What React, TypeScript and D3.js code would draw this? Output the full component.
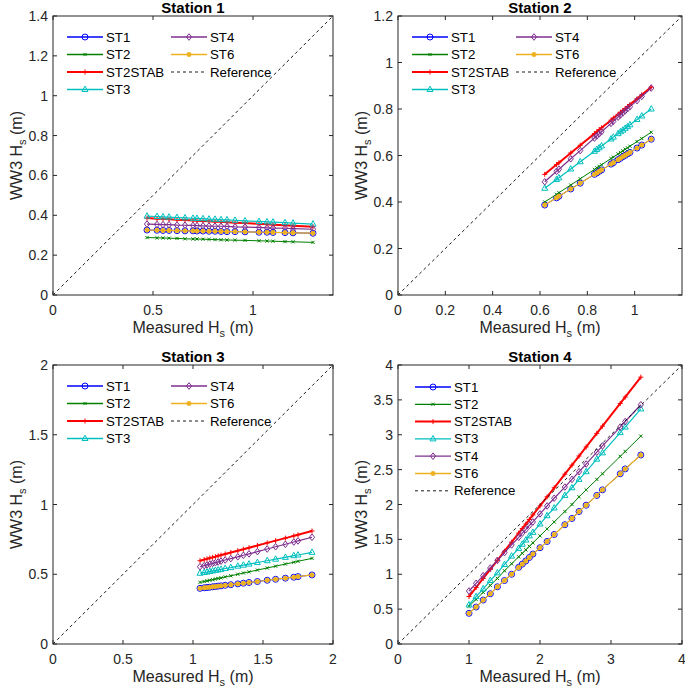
import React from "react";
import * as d3 from "d3";

// ---- data ----
const seriesNames = ["ST1", "ST2", "ST2STAB", "ST3", "ST4", "ST6"];

// Station 1
const s1Measured = [0.47, 0.52, 0.55, 0.58, 0.62, 0.66, 0.7, 0.72, 0.75, 0.78, 0.81, 0.84, 0.87, 0.91, 0.96, 1.03, 1.07, 1.1, 1.16, 1.2, 1.3];
const s1ST1 = [0.326, 0.325, 0.324, 0.324, 0.323, 0.322, 0.322, 0.321, 0.321, 0.32, 0.32, 0.319, 0.318, 0.318, 0.317, 0.315, 0.315, 0.314, 0.313, 0.312, 0.31];
const s1ST2 = [0.288, 0.287, 0.286, 0.285, 0.284, 0.282, 0.281, 0.281, 0.28, 0.279, 0.278, 0.277, 0.276, 0.275, 0.274, 0.272, 0.271, 0.27, 0.268, 0.267, 0.264];
const s1ST2STAB = [0.386, 0.383, 0.382, 0.38, 0.378, 0.376, 0.374, 0.373, 0.371, 0.37, 0.368, 0.367, 0.365, 0.363, 0.361, 0.357, 0.355, 0.353, 0.35, 0.348, 0.343];
const s1ST3 = [0.396, 0.394, 0.392, 0.391, 0.389, 0.387, 0.385, 0.384, 0.383, 0.381, 0.38, 0.378, 0.377, 0.375, 0.372, 0.369, 0.367, 0.366, 0.363, 0.361, 0.356];
const s1ST4 = [0.356, 0.354, 0.353, 0.353, 0.351, 0.35, 0.349, 0.348, 0.347, 0.346, 0.345, 0.345, 0.344, 0.342, 0.341, 0.339, 0.337, 0.336, 0.335, 0.333, 0.33];
const s1ST6 = [0.326, 0.325, 0.324, 0.324, 0.323, 0.322, 0.322, 0.321, 0.321, 0.32, 0.32, 0.319, 0.318, 0.318, 0.317, 0.315, 0.315, 0.314, 0.313, 0.312, 0.31];

// Station 2
const s2Measured = [0.62, 0.67, 0.68, 0.73, 0.77, 0.83, 0.84, 0.85, 0.86, 0.9, 0.91, 0.93, 0.94, 0.95, 0.96, 0.97, 0.98, 1.01, 1.03, 1.07];
const s2ST1 = [0.387, 0.418, 0.425, 0.456, 0.481, 0.519, 0.525, 0.532, 0.538, 0.563, 0.569, 0.582, 0.588, 0.595, 0.601, 0.607, 0.613, 0.632, 0.645, 0.67];
const s2ST2 = [0.4, 0.433, 0.44, 0.473, 0.5, 0.54, 0.547, 0.553, 0.56, 0.587, 0.593, 0.607, 0.613, 0.62, 0.627, 0.633, 0.64, 0.66, 0.673, 0.7];
const s2ST2STAB = [0.519, 0.561, 0.569, 0.611, 0.644, 0.694, 0.702, 0.711, 0.719, 0.752, 0.761, 0.777, 0.786, 0.794, 0.802, 0.811, 0.819, 0.844, 0.861, 0.894];
const s2ST3 = [0.459, 0.497, 0.504, 0.542, 0.573, 0.618, 0.626, 0.633, 0.641, 0.671, 0.679, 0.694, 0.702, 0.709, 0.717, 0.724, 0.732, 0.755, 0.77, 0.8];
const s2ST4 = [0.487, 0.532, 0.541, 0.586, 0.621, 0.675, 0.684, 0.693, 0.702, 0.738, 0.747, 0.765, 0.774, 0.783, 0.792, 0.801, 0.81, 0.836, 0.854, 0.89];
const s2ST6 = [0.387, 0.418, 0.425, 0.456, 0.481, 0.519, 0.525, 0.532, 0.538, 0.563, 0.569, 0.582, 0.588, 0.595, 0.601, 0.607, 0.613, 0.632, 0.645, 0.67];

// Station 3
const s3Measured = [1.05, 1.08, 1.1, 1.12, 1.14, 1.16, 1.18, 1.2, 1.23, 1.27, 1.32, 1.36, 1.4, 1.46, 1.53, 1.59, 1.66, 1.72, 1.75, 1.85];
const s3ST1 = [0.399, 0.403, 0.405, 0.407, 0.41, 0.412, 0.415, 0.417, 0.421, 0.425, 0.431, 0.436, 0.441, 0.448, 0.457, 0.464, 0.472, 0.479, 0.483, 0.495];
const s3ST2 = [0.442, 0.448, 0.453, 0.457, 0.461, 0.466, 0.47, 0.474, 0.481, 0.489, 0.5, 0.509, 0.517, 0.53, 0.545, 0.558, 0.573, 0.586, 0.593, 0.614];
const s3ST2STAB = [0.597, 0.605, 0.61, 0.616, 0.621, 0.626, 0.632, 0.637, 0.645, 0.656, 0.669, 0.679, 0.69, 0.706, 0.725, 0.741, 0.759, 0.775, 0.783, 0.81];
const s3ST3 = [0.507, 0.513, 0.516, 0.52, 0.524, 0.528, 0.531, 0.535, 0.541, 0.548, 0.558, 0.565, 0.573, 0.584, 0.597, 0.608, 0.621, 0.633, 0.638, 0.657];
const s3ST4 = [0.554, 0.562, 0.567, 0.572, 0.578, 0.583, 0.588, 0.594, 0.602, 0.612, 0.625, 0.636, 0.646, 0.662, 0.681, 0.697, 0.715, 0.731, 0.739, 0.765];
const s3ST6 = [0.399, 0.403, 0.405, 0.407, 0.41, 0.412, 0.415, 0.417, 0.421, 0.425, 0.431, 0.436, 0.441, 0.448, 0.457, 0.464, 0.472, 0.479, 0.483, 0.495];

// Station 4
const s4Measured = [1.0, 1.1, 1.2, 1.3, 1.4, 1.5, 1.6, 1.7, 1.75, 1.8, 1.85, 1.9, 2.0, 2.1, 2.2, 2.35, 2.45, 2.55, 2.65, 2.8, 2.88, 3.13, 3.2, 3.42];
const s4ST1 = [0.44, 0.53, 0.63, 0.72, 0.82, 0.91, 1.0, 1.1, 1.145, 1.19, 1.24, 1.29, 1.38, 1.47, 1.57, 1.71, 1.8, 1.9, 1.99, 2.13, 2.21, 2.44, 2.51, 2.71];
const s4ST2 = [0.54, 0.64, 0.74, 0.84, 0.94, 1.05, 1.15, 1.25, 1.3, 1.35, 1.4, 1.45, 1.55, 1.65, 1.75, 1.9, 2.0, 2.11, 2.21, 2.36, 2.44, 2.69, 2.76, 2.98];
const s4ST2STAB = [0.68, 0.81, 0.94, 1.07, 1.2, 1.33, 1.46, 1.59, 1.655, 1.72, 1.785, 1.85, 1.98, 2.11, 2.24, 2.435, 2.565, 2.695, 2.825, 3.02, 3.124, 3.449, 3.54, 3.826];
const s4ST3 = [0.56, 0.68, 0.79, 0.91, 1.02, 1.14, 1.26, 1.37, 1.43, 1.49, 1.55, 1.6, 1.72, 1.84, 1.95, 2.13, 2.24, 2.36, 2.47, 2.65, 2.74, 3.03, 3.11, 3.37];
const s4ST4 = [0.76, 0.87, 0.98, 1.09, 1.2, 1.31, 1.42, 1.53, 1.59, 1.64, 1.7, 1.75, 1.865, 1.98, 2.09, 2.25, 2.36, 2.47, 2.58, 2.75, 2.84, 3.11, 3.19, 3.43];
const s4ST6 = [0.44, 0.53, 0.63, 0.72, 0.82, 0.91, 1.0, 1.1, 1.145, 1.19, 1.24, 1.29, 1.38, 1.47, 1.57, 1.71, 1.8, 1.9, 1.99, 2.13, 2.21, 2.44, 2.51, 2.71];

// axis limits / ticks
const s1XTicks = [0, 0.5, 1];
const s1YTicks = [0, 0.2, 0.4, 0.6, 0.8, 1, 1.2, 1.4];
const s2XTicks = [0, 0.2, 0.4, 0.6, 0.8, 1];
const s2YTicks = [0, 0.2, 0.4, 0.6, 0.8, 1, 1.2];
const s3XTicks = [0, 0.5, 1, 1.5, 2];
const s3YTicks = [0, 0.5, 1, 1.5, 2];
const s4XTicks = [0, 1, 2, 3, 4];
const s4YTicks = [0, 0.5, 1, 1.5, 2, 2.5, 3, 3.5, 4];

// ---- styles ----
const FONT = "'Liberation Sans', Arial, Helvetica, sans-serif";
const AXIS = "#262626";
const style: Record<string, { color: string; width: number; marker: string }> = {
  ST1: { color: "#0000ff", width: 1, marker: "o" },
  ST2: { color: "#008000", width: 1, marker: "x" },
  ST2STAB: { color: "#ff0000", width: 2, marker: "+" },
  ST3: { color: "#00bfbf", width: 1.2, marker: "^" },
  ST4: { color: "#7e2f8e", width: 1.2, marker: "d" },
  ST6: { color: "#edb120", width: 1.2, marker: "*" },
};

const Marker = ({ kind, x, y, color }: { kind: string; x: number; y: number; color: string }) => {
  if (kind === "o") return <circle cx={x} cy={y} r={3} fill="none" stroke={color} strokeWidth={1} />;
  if (kind === "x")
    return <path d={`M${x - 1.6},${y - 1.6}L${x + 1.6},${y + 1.6}M${x - 1.6},${y + 1.6}L${x + 1.6},${y - 1.6}`} stroke={color} strokeWidth={1} />;
  if (kind === "+")
    return <path d={`M${x - 2.5},${y}L${x + 2.5},${y}M${x},${y - 2.5}L${x},${y + 2.5}`} stroke={color} strokeWidth={1} />;
  if (kind === "^")
    return <path d={`M${x},${y - 3.4}L${x + 3},${y + 2}L${x - 3},${y + 2}Z`} fill="none" stroke={color} strokeWidth={1} />;
  if (kind === "d")
    return <path d={`M${x},${y - 3.3}L${x + 2.6},${y}L${x},${y + 3.3}L${x - 2.6},${y}Z`} fill="none" stroke={color} strokeWidth={1} />;
  return <circle cx={x} cy={y} r={2.2} fill={color} stroke={color} strokeWidth={0.6} />;
};

type PanelProps = {
  title: string;
  left: number;
  top: number;
  width: number;
  height: number;
  xMax: number;
  yMax: number;
  xTicks: number[];
  yTicks: number[];
  measured: number[];
  series: number[][];
  oneColumn?: boolean;
};

const Panel = (p: PanelProps) => {
  const x = d3.scaleLinear().domain([0, p.xMax]).range([p.left, p.left + p.width]);
  const y = d3.scaleLinear().domain([0, p.yMax]).range([p.top + p.height, p.top]);
  const bottom = p.top + p.height;
  const right = p.left + p.width;
  const line = d3
    .line<number>()
    .x((d, i) => x(p.measured[i]))
    .y((d) => y(d));
  const lim = Math.min(p.xMax, p.yMax);

  const legendItems = [...seriesNames, "Reference"];
  const legendPos = (i: number) => {
    if (p.oneColumn) return { lx: p.left + 17, ly: p.top + 22 + i * 17.3 };
    const col = i < 4 ? 0 : 1;
    const row = i < 4 ? i : i - 4;
    return { lx: p.left + 14 + col * 104, ly: p.top + 21 + row * 17.5 };
  };

  return (
    <g fontFamily={FONT}>
      {/* series */}
      {p.series.map((vals, si) => {
        const st = style[seriesNames[si]];
        return (
          <g key={si}>
            <path d={line(vals) || ""} fill="none" stroke={st.color} strokeWidth={st.width} />
            {vals.map((v, i) => (
              <Marker key={i} kind={st.marker} x={x(p.measured[i])} y={y(v)} color={st.color} />
            ))}
          </g>
        );
      })}
      {/* reference 1:1 */}
      <line x1={x(0)} y1={y(0)} x2={x(lim)} y2={y(lim)} stroke="#000" strokeWidth={0.9} strokeDasharray="3,3" />

      {/* box + ticks */}
      <rect x={p.left} y={p.top} width={p.width} height={p.height} fill="none" stroke={AXIS} strokeWidth={1} />
      {p.xTicks.map((t) => (
        <g key={"x" + t}>
          <line x1={x(t)} x2={x(t)} y1={bottom} y2={bottom - 4} stroke={AXIS} />
          <line x1={x(t)} x2={x(t)} y1={p.top} y2={p.top + 4} stroke={AXIS} />
          <text x={x(t)} y={bottom + 20} textAnchor="middle" fontSize={14} fill={AXIS}>
            {String(t)}
          </text>
        </g>
      ))}
      {p.yTicks.map((t) => (
        <g key={"y" + t}>
          <line x1={p.left} x2={p.left + 4} y1={y(t)} y2={y(t)} stroke={AXIS} />
          <line x1={right} x2={right - 4} y1={y(t)} y2={y(t)} stroke={AXIS} />
          <text x={p.left - 5} y={y(t) + 5} textAnchor="end" fontSize={14} fill={AXIS}>
            {String(t)}
          </text>
        </g>
      ))}

      {/* title + labels */}
      <text x={(p.left + right) / 2} y={p.top - 3.5} textAnchor="middle" fontSize={15} fontWeight="bold" fill="#000">
        {p.title}
      </text>
      <text x={(p.left + right) / 2} y={bottom + 38} textAnchor="middle" fontSize={16} fill={AXIS}>
        Measured H<tspan fontSize={11} dy={4}>s</tspan>
        <tspan dy={-4}> (m)</tspan>
      </text>
      <text
        transform={`translate(${p.left - 31},${p.top + p.height / 2}) rotate(-90)`}
        textAnchor="middle"
        fontSize={16}
        fill={AXIS}
      >
        WW3 H<tspan fontSize={11} dy={4}>s</tspan>
        <tspan dy={-4}> (m)</tspan>
      </text>

      {/* legend */}
      {legendItems.map((name, i) => {
        const { lx, ly } = legendPos(i);
        const isRef = name === "Reference";
        const st = style[name];
        return (
          <g key={name}>
            {isRef ? (
              <line x1={lx} x2={lx + 36} y1={ly} y2={ly} stroke="#000" strokeWidth={0.9} strokeDasharray="3,3" />
            ) : (
              <>
                <line x1={lx} x2={lx + 36} y1={ly} y2={ly} stroke={st.color} strokeWidth={Math.max(st.width, 1.3)} />
                <Marker kind={st.marker} x={lx + 18} y={ly} color={st.color} />
              </>
            )}
            <text x={lx + 39} y={ly + 4.5} fontSize={13.3} fill="#000">
              {name}
            </text>
          </g>
        );
      })}
    </g>
  );
};

export default function App() {
  return (
    <svg
      width={685}
      height={694}
      style={{ position: "absolute", left: 0, top: 0, background: "#fff" }}
    >
      <rect width={685} height={694} fill="#fff" />
      <Panel
        title="Station 1"
        left={53}
        top={16}
        width={280}
        height={279}
        xMax={1.4}
        yMax={1.4}
        xTicks={s1XTicks}
        yTicks={s1YTicks}
        measured={s1Measured}
        series={[s1ST1, s1ST2, s1ST2STAB, s1ST3, s1ST4, s1ST6]}
      />
      <Panel
        title="Station 2"
        left={398}
        top={16}
        width={284}
        height={279}
        xMax={1.2}
        yMax={1.2}
        xTicks={s2XTicks}
        yTicks={s2YTicks}
        measured={s2Measured}
        series={[s2ST1, s2ST2, s2ST2STAB, s2ST3, s2ST4, s2ST6]}
      />
      <Panel
        title="Station 3"
        left={53}
        top={365}
        width={280}
        height={279}
        xMax={2}
        yMax={2}
        xTicks={s3XTicks}
        yTicks={s3YTicks}
        measured={s3Measured}
        series={[s3ST1, s3ST2, s3ST2STAB, s3ST3, s3ST4, s3ST6]}
      />
      <Panel
        title="Station 4"
        left={398}
        top={365}
        width={284}
        height={279}
        xMax={4}
        yMax={4}
        xTicks={s4XTicks}
        yTicks={s4YTicks}
        measured={s4Measured}
        series={[s4ST1, s4ST2, s4ST2STAB, s4ST3, s4ST4, s4ST6]}
        oneColumn
      />
    </svg>
  );
}
